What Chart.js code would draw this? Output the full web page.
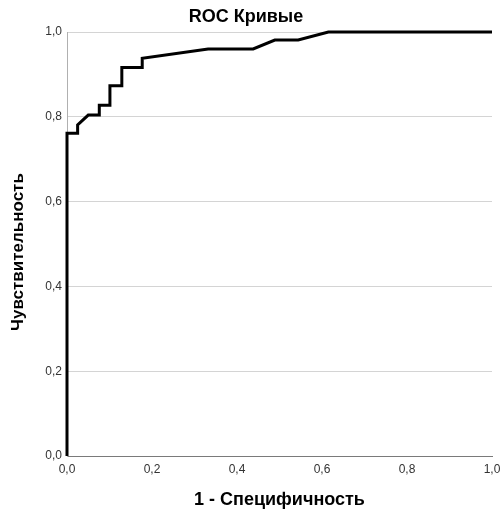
<!DOCTYPE html>
<html>
<head>
<meta charset="utf-8">
<script src="https://cdn.jsdelivr.net/npm/chart.js@4.4.1/dist/chart.umd.min.js"></script>
<style>
  html, body { margin: 0; padding: 0; background: #fff; }
  #wrap { width: 500px; height: 511px; position: relative; }
</style>
</head>
<body>
<div id="wrap"><canvas id="c" width="500" height="511"></canvas></div>
<script>
// ROC curve points
const fpr = [0, 0, 0.025, 0.025, 0.05, 0.076, 0.076, 0.101, 0.101, 0.129, 0.129, 0.177, 0.177, 0.332, 0.438, 0.489, 0.544, 0.615, 1.0];
const tpr = [0, 0.761, 0.761, 0.781, 0.804, 0.804, 0.827, 0.827, 0.873, 0.873, 0.916, 0.916, 0.938, 0.960, 0.960, 0.981, 0.981, 1.0, 1.0];
const xTickLabels = ['0,0', '0,2', '0,4', '0,6', '0,8', '1,0'];
const yTickLabels = ['0,0', '0,2', '0,4', '0,6', '0,8', '1,0'];
const chartTitle = 'ROC Кривые';
const xTitle = '1 - Специфичность';
const yTitle = 'Чувствительность';

const FONT = '"Liberation Sans", Arial, sans-serif';
const points = fpr.map((x, i) => ({ x: x, y: tpr[i] }));

// Y axis title, drawn slightly below the plot centre as in the original
const yTitlePlugin = {
  id: 'yTitlePlugin',
  afterDraw(chart) {
    const ctx = chart.ctx;
    const area = chart.chartArea;
    ctx.save();
    ctx.translate(18, (area.top + area.bottom) / 2 + 8);
    ctx.rotate(-Math.PI / 2);
    ctx.font = 'bold 17px ' + FONT;
    ctx.fillStyle = '#000';
    ctx.textAlign = 'center';
    ctx.textBaseline = 'middle';
    ctx.fillText(yTitle, 0, 0);
    ctx.restore();
  }
};

new Chart(document.getElementById('c'), {
  type: 'scatter',
  data: {
    datasets: [{
      data: points,
      showLine: true,
      borderColor: '#000',
      borderWidth: 3,
      pointRadius: 0,
      tension: 0,
      clip: 4,
      borderJoinStyle: 'miter'
    }]
  },
  plugins: [yTitlePlugin],
  options: {
    responsive: false,
    animation: false,
    devicePixelRatio: 1,
    layout: { padding: { left: 0, right: 8, top: 0, bottom: 0 } },
    plugins: {
      legend: { display: false },
      tooltip: { enabled: false },
      title: {
        display: true,
        text: chartTitle,
        color: '#000',
        font: { family: FONT, size: 18, weight: 'bold' },
        padding: { top: 6, bottom: 4.4 }
      }
    },
    scales: {
      x: {
        type: 'linear',
        min: 0, max: 1,
        grid: { display: false, drawTicks: false },
        border: { display: true, color: '#7a7a7a', width: 1 },
        ticks: {
          stepSize: 0.2,
          padding: 6,
          color: '#333',
          font: { family: FONT, size: 12 },
          maxRotation: 0,
          callback: (v, i) => xTickLabels[i]
        },
        title: {
          display: true,
          text: xTitle,
          color: '#000',
          font: { family: FONT, size: 18, weight: 'bold' },
          padding: { top: 4, bottom: 0 }
        },
        afterFit: (s) => { s.height = 55; s.paddingLeft = 0; s.paddingRight = 0; }
      },
      y: {
        type: 'linear',
        min: 0, max: 1,
        grid: { color: '#d4d4d4', lineWidth: 1, drawTicks: false },
        border: { display: true, color: '#b0b0b0', width: 1 },
        ticks: {
          stepSize: 0.2,
          padding: 5,
          color: '#333',
          font: { family: FONT, size: 12 },
          callback: (v, i) => yTickLabels[i]
        },
        title: { display: false },
        afterFit: (s) => { s.width = 67; s.paddingTop = 0; s.paddingBottom = 0; }
      }
    }
  }
});
</script>
</body>
</html>
